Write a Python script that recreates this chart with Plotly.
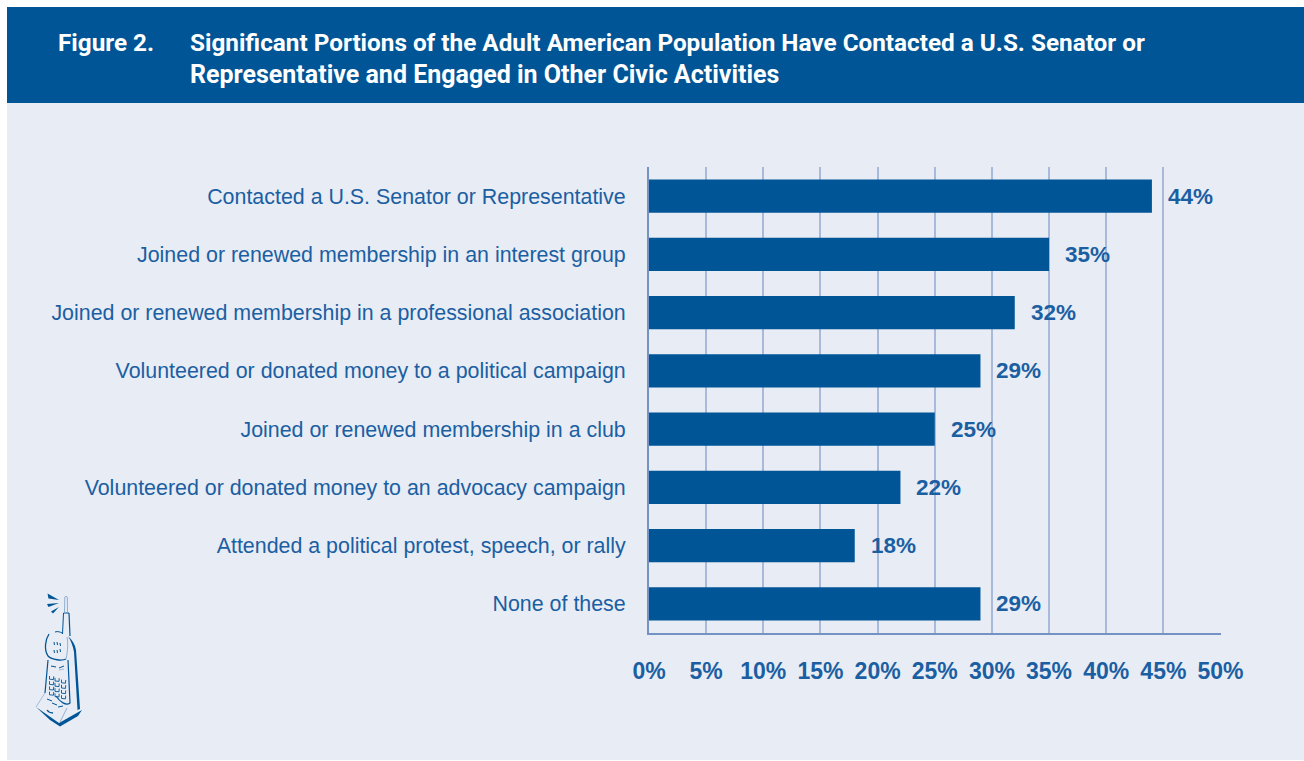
import plotly.graph_objects as go

categories = ["Contacted a U.S. Senator or Representative",
              "Joined or renewed membership in an interest group",
              "Joined or renewed membership in a professional association",
              "Volunteered or donated money to a political campaign",
              "Joined or renewed membership in a club",
              "Volunteered or donated money to an advocacy campaign",
              "Attended a political protest, speech, or rally",
              "None of these"]
values = [44, 35, 32, 29, 25, 22, 18, 29]
tick_vals = [0, 5, 10, 15, 20, 25, 30, 35, 40, 45, 50]
title_prefix = "Figure 2."
title_lines = ["Significant Portions of the Adult American Population Have Contacted a U.S. Senator or",
               "Representative and Engaged in Other Civic Activities"]

W, H = 1304, 761
BLUE = "#005596"
TEXT = "#1B5FA2"
BG = "#E8ECF5"
GRID = "#A9B9D9"
AXIS = "#7492C4"
HEAD_FONT = dict(family="Roboto", size=24.3, color="white", weight="bold")
HEAD_FONT2 = dict(family="Roboto", size=25, color="white", weight="bold")

fig = go.Figure()
# full-page pixel canvas first, so that the chart subplot is drawn over it
fig.add_trace(go.Scatter(x=[], y=[], xaxis="x", yaxis="y", showlegend=False, hoverinfo="skip"))
fig.add_trace(go.Bar(x=values, y=categories, orientation="h", marker=dict(color=BLUE, line_width=0),
                     xaxis="x2", yaxis="y2", width=0.575, showlegend=False, hoverinfo="skip"))

def rect(x0, y0, x1, y1, color):
    return dict(type="rect", xref="x", yref="y", x0=x0, x1=x1, y0=y0, y1=y1,
                fillcolor=color, line_width=0, layer="below")

def stroke(path, width=1.2, color=BLUE):
    return dict(type="path", xref="x", yref="y", path=path, line=dict(color=color, width=width), layer="above")

def fill(path, color=BLUE):
    return dict(type="path", xref="x", yref="y", path=path, fillcolor=color, line_width=0, layer="above")

shapes = [rect(7, 7, 1304, 760, BG), rect(7, 7, 1304, 103, BLUE)]

# decorative telephone
LIGHT = "#8FAFD3"
shapes += [
    stroke("M64.5 612 L64.8 597 Q66 595.5 67.3 597 L67.5 612", 1, LIGHT),
    stroke("M63.5 613 L69 613", 1),
    stroke("M63.5 613 L62.5 634", 1),
    stroke("M69 613 L70 636", 1.2),
    fill("M47.5 593.5 L59 600 L48.5 598.5 Z"),
    fill("M47 604 L59 603 L48.5 607 Z"),
    fill("M51 611.5 L59 607 L53 613.5 Z"),
    stroke("M49 634 C45 640 44 650 48 656 C52 660 62 661 66 659", 1.3),
    stroke("M55 632 C58 631 60 632 62 633", 1),
    stroke("M66 659 C68 650 68 642 67 637", 1, LIGHT),
    fill("M68 636 C72 640 75 644 76 650 L80 709 L77.5 710 L74 652 C73 646 71 641 68 636 Z"),
    stroke("M48 660 L45 693", 1.2),
    stroke("M45 693 L36 707", 0.8, LIGHT),
    stroke("M68 660 L70 703 C66 706 60 702 56 696", 1.2),
    fill("M36 707 L59 723 L82 710 L78 716 L60 726.5 L50 720 Z"),
    stroke("M60 722 L67 708", 1, LIGHT),
    stroke("M47 699 L52 701", 1),
    stroke("M52 703 L57 705", 1),
    stroke("M58 707 L63 706", 1),
    stroke("M47 710 C49 713 51 713 53 713", 1.3),
    stroke("M51 666 L56 667", 1),
    stroke("M59 668 L64 666", 1),
    stroke("M59 670 L64 669", 0.8, LIGHT),
]
for col, cx in enumerate((49.5, 55, 61.5)):
    for row in range(4):
        cy = 676 + 5.2 * row + 1.8 * col
        shapes.append(stroke(f"M{cx} {cy} L{cx} {cy + 3.2} L{cx + 4} {cy + 3.6} L{cx + 4.2} {cy + 0.4}", 0.9))
for sx, sy in ((54, 642), (57, 642), (60, 643), (54, 650), (57, 650), (60, 649)):
    shapes.append(stroke(f"M{sx} {sy} L{sx + 0.5} {sy + 3}", 1))

annotations = [dict(xref="x", yref="y", x=56, y=42, text=f"<b>{title_prefix}</b>", showarrow=False,
                    xanchor="left", yanchor="middle", font=HEAD_FONT)]
for yy, line, font in zip((42, 74), title_lines, (HEAD_FONT, HEAD_FONT2)):
    annotations.append(dict(xref="x", yref="y", x=188, y=yy, text=f"<b>{line}</b>", showarrow=False,
                            xanchor="left", yanchor="middle", font=font))
for c, v in zip(categories, values):
    annotations.append(dict(xref="x2", yref="y2", x=v, y=c, text=f"<b>{v}%</b>", showarrow=False,
                            xanchor="left", yanchor="middle", xshift=14,
                            font=dict(family="Liberation Sans", size=22.5, color=TEXT)))

fig.update_layout(
    width=W, height=H, margin=dict(l=0, r=0, t=0, b=0), autosize=False,
    paper_bgcolor="white", plot_bgcolor="rgba(0,0,0,0)",
    shapes=shapes, annotations=annotations,
    xaxis=dict(domain=[0, 1], range=[0, W], visible=False, fixedrange=True, automargin=False),
    yaxis=dict(domain=[0, 1], range=[H, 0], visible=False, fixedrange=True, automargin=False),
    xaxis2=dict(domain=[649 / W, 1220.5 / W], range=[0, 50], tickvals=tick_vals, ticktext=[f"{t}%" for t in tick_vals],
                anchor="y2", automargin=False,
                showgrid=True, gridcolor=GRID, gridwidth=2, zeroline=False, showline=True, linecolor=AXIS, linewidth=2,
                ticks="", ticklabelstandoff=16, tickfont=dict(family="Liberation Sans", size=23, color=TEXT, weight="bold")),
    yaxis2=dict(domain=[1 - 633 / H, 1 - 167 / H], categoryorder="array", categoryarray=categories[::-1],
                anchor="x2", automargin=False,
                showgrid=False, zeroline=False, showline=True, linecolor=AXIS, linewidth=2,
                ticks="", ticklabelstandoff=17, tickfont=dict(family="Liberation Sans", size=21.4, color=TEXT)),
)
fig.write_html("out.html", config={"displayModeBar": False}, post_script="document.body.style.margin='0';")
